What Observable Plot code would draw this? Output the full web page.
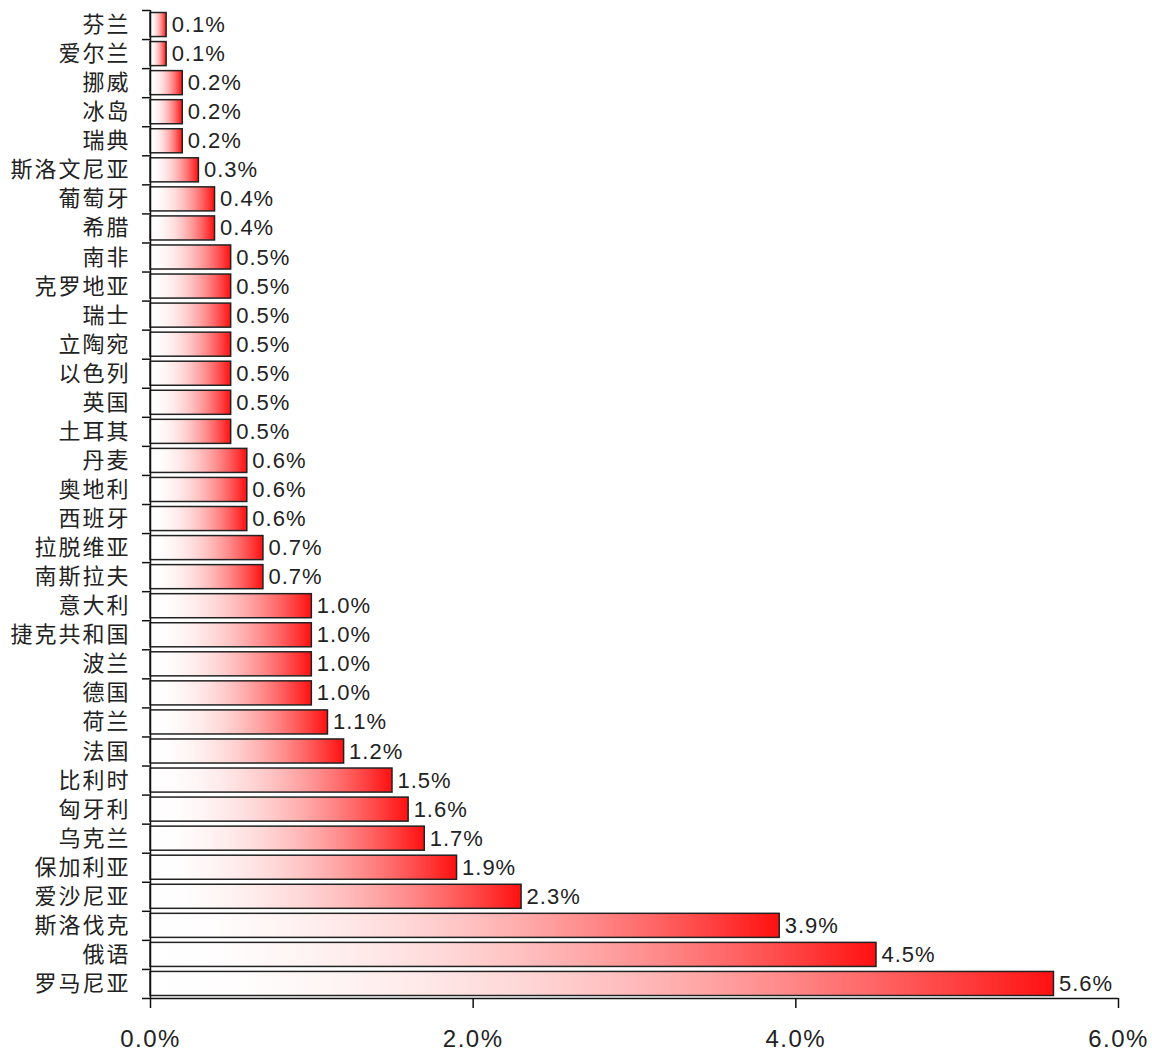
<!DOCTYPE html>
<html><head><meta charset="utf-8">
<script src="https://cdn.jsdelivr.net/npm/d3@7"></script>
<script src="https://cdn.jsdelivr.net/npm/@observablehq/plot@0.6"></script>
<style>
body{margin:0;background:#fff}
g[aria-label="y-axis tick label"] text{letter-spacing:2px}
g[aria-label="x-axis tick label"] text{letter-spacing:1.5px}
g.vlabels text{letter-spacing:1px}
</style>
</head><body><div id="chart"></div>
<script>
const categories = ["芬兰","爱尔兰","挪威","冰岛","瑞典","斯洛文尼亚","葡萄牙","希腊","南非","克罗地亚","瑞士","立陶宛","以色列","英国","土耳其","丹麦","奥地利","西班牙","拉脱维亚","南斯拉夫","意大利","捷克共和国","波兰","德国","荷兰","法国","比利时","匈牙利","乌克兰","保加利亚","爱沙尼亚","斯洛伐克","俄语","罗马尼亚"];
const values = [0.1,0.1,0.2,0.2,0.2,0.3,0.4,0.4,0.5,0.5,0.5,0.5,0.5,0.5,0.5,0.6,0.6,0.6,0.7,0.7,1.0,1.0,1.0,1.0,1.1,1.2,1.5,1.6,1.7,1.9,2.3,3.9,4.5,5.6];
const xTicks = [0,2,4,6];
const xDomain = [0,6];

const data = categories.map((c,i)=>({category:c, value:values[i], i}));
const n = categories.length;
const numFont = "Liberation Sans, Arial, sans-serif";
const cjkFont = "Noto Sans CJK SC, sans-serif";

const chart = Plot.plot({
  width:1152, height:1055,
  marginLeft:150, marginRight:34, marginTop:10, marginBottom:57,
  x:{domain:xDomain},
  y:{domain:[0,n], reverse:true},
  style:{background:"#fff", color:"#222"},
  marks:[
    () => {
      const defs = d3.create("svg:defs");
      const g = defs.append("linearGradient").attr("id","barGrad")
        .attr("x1","0").attr("x2","1").attr("y1","0").attr("y2","0");
      // white-to-red, whiteness falling off quadratically along the bar
      for (const t of [0,0.1,0.2,0.3,0.4,0.5,0.6,0.7,0.8,0.9,1]) {
        const v = Math.round(16 + 239 * (1 - t * t));
        g.append("stop").attr("offset", (t*100)+"%").attr("stop-color", `rgb(255,${v},${v})`);
      }
      return defs.node();
    },
    Plot.rect(data, {x1:d=>0, x2:"value", y1:d=>d.i, y2:d=>d.i+1,
      insetTop:2.5, insetBottom:2.5, fill:"url(#barGrad)", stroke:"#222", strokeWidth:1.5}),
    Plot.text(data, {x:"value", y:d=>d.i+0.5, text:d=>d.value.toFixed(1)+"%",
      textAnchor:"start", dx:5, fontSize:22, fontFamily:numFont, fill:"#222", className:"vlabels"}),
    Plot.axisY(d3.range(n+1), {tickSize:8, tickFormat:()=> "", label:null, stroke:"#111", strokeWidth:1.5}),
    Plot.axisY(data.map(d=>d.i+0.5), {tickSize:0, tickPadding:20, label:null,
      tickFormat:d=>categories[Math.floor(d)], fontSize:22, fontFamily:cjkFont, fill:"#222"}),
    Plot.ruleX([0], {y1:0, y2:n, stroke:"#111", strokeWidth:1.5}),
    Plot.ruleY([n], {x1:xDomain[0], x2:xDomain[1], stroke:"#111", strokeWidth:1.5}),
    Plot.axisX(xTicks, {tickSize:10, tickPadding:21, label:null, stroke:"#111", strokeWidth:1.5,
      tickFormat:d=>d.toFixed(1)+"%", fontSize:24, fontFamily:numFont, fill:"#222"})
  ]
});
document.getElementById("chart").append(chart);
</script>
</body></html>
